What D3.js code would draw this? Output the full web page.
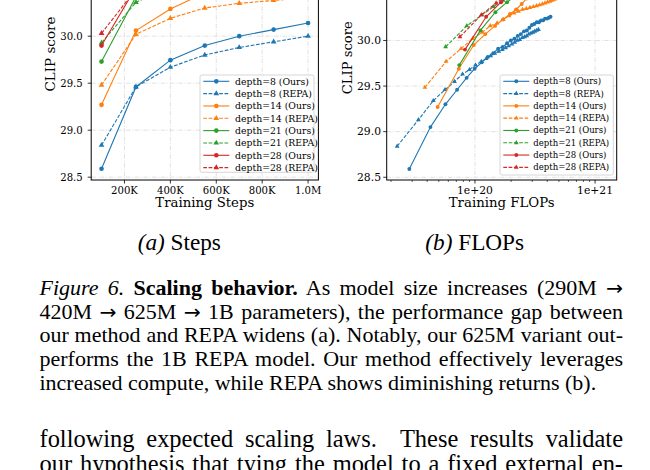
<!DOCTYPE html>
<html>
<head>
<meta charset="utf-8">
<script src="https://cdn.jsdelivr.net/npm/d3@7/dist/d3.min.js"></script>
<style>
  body { margin: 0; background: #fff; }
  svg { display: block; }
</style>
</head>
<body>
<svg id="figure" width="650" height="470"></svg>
<script>
// ---- data ----

// (a) CLIP score vs training steps
const trainSteps = [100000, 250000, 400000, 550000, 700000, 850000, 1000000];
const stepD8Ours  = [28.59, 29.46, 29.745, 29.90, 30.00, 30.07, 30.14];
const stepD8Repa  = [28.84, 29.46, 29.67, 29.80, 29.88, 29.94, 30.00];
const stepD14Ours = [29.27, 30.06, 30.29, 30.46, 30.55, 30.60, 30.64];
const stepD14Repa = [29.48, 30.02, 30.19, 30.30, 30.35, 30.38, 30.41];
const stepD21Ours = [29.73, 30.42, 30.62, 30.73, 30.80, 30.85, 30.89];
const stepD21Repa = [29.93, 30.36, 30.53, 30.61, 30.65, 30.68, 30.70];
const stepD28Ours = [29.90, 30.52, 30.70, 30.81, 30.88, 30.93, 30.97];
const stepD28Repa = [30.03, 30.50, 30.63, 30.70, 30.74, 30.77, 30.79];

// (b) CLIP score vs training FLOPs (FLOPs in units of 1e19)
const flopD8Ours = [2.84, 4.26, 5.68, 7.10, 8.52, 9.94, 11.4, 12.8, 14.2, 15.6, 17.0, 18.5, 19.9, 21.3, 22.7,
  24.1, 25.6, 27.0, 28.4, 29.8, 31.2, 32.7, 34.1, 35.5, 36.9, 38.3, 39.8, 41.2, 42.6];
const clipD8Ours = [28.59, 29.05, 29.30, 29.46, 29.59, 29.69, 29.76, 29.82, 29.86, 29.91, 29.93, 29.97, 30.00, 30.02, 30.05,
  30.07, 30.10, 30.11, 30.14, 30.17, 30.18, 30.20, 30.20, 30.22, 30.22, 30.24, 30.24, 30.25, 30.26];
const flopD8Repa = [2.25, 3.38, 4.50, 5.63, 6.75, 7.88, 9.00, 10.1, 11.3, 12.4, 13.5, 14.6, 15.8, 16.9, 18.0,
  19.1, 20.3, 21.4, 22.5, 23.6, 24.8, 25.9, 27.0, 28.1, 29.3, 30.4, 31.5, 32.6, 33.8];
const clipD8Repa = [28.84, 29.13, 29.34, 29.46, 29.55, 29.63, 29.68, 29.73, 29.77, 29.80, 29.83, 29.86, 29.88, 29.90, 29.92,
  29.94, 29.96, 29.98, 30.00, 30.01, 30.03, 30.04, 30.05, 30.07, 30.08, 30.09, 30.10, 30.11, 30.12];
const flopD14Ours = [4.89, 7.34, 9.78, 12.2, 14.7, 17.1, 19.6, 22.0, 24.5, 26.9, 29.3, 31.8, 34.2, 36.7, 39.1,
  41.6, 44.0, 46.5, 48.9, 51.3, 53.8, 56.2, 58.7, 61.1, 63.6, 66.0, 68.5, 70.9, 73.4];
const clipD14Ours = [29.27, 29.69, 29.95, 30.07, 30.16, 30.23, 30.29, 30.34, 30.40, 30.46, 30.50, 30.53, 30.55, 30.57, 30.59,
  30.60, 30.62, 30.63, 30.64, 30.65, 30.66, 30.67, 30.68, 30.69, 30.70, 30.70, 30.71, 30.72, 30.72];
const flopD14Repa = [3.83, 5.75, 7.66, 9.58, 11.5, 13.4, 15.3, 17.2, 19.2, 21.1, 23.0, 24.9, 26.8, 28.7, 30.6,
  32.6, 34.5, 36.4, 38.3, 40.2, 42.1, 44.0, 46.0, 47.9, 49.8, 51.7, 53.6, 55.5, 57.5];
const clipD14Repa = [29.485, 29.77, 29.91, 30.02, 30.09, 30.16, 30.19, 30.23, 30.27, 30.30, 30.32, 30.34, 30.35, 30.36, 30.37,
  30.38, 30.39, 30.40, 30.41, 30.42, 30.43, 30.44, 30.45, 30.46, 30.46, 30.47, 30.48, 30.48, 30.49];
const flopD21Ours = [7.40, 11.1, 14.8, 18.5, 22.2, 25.9, 29.6, 33.3, 37.0, 40.7, 44.4, 48.1, 51.8, 55.5, 59.2,
  62.9, 66.6, 70.3, 74.0, 77.7, 81.4, 85.1, 88.8, 92.5, 96.2, 99.9, 103.6, 107.3, 111.0];
const clipD21Ours = [29.73, 30.11, 30.31, 30.42, 30.50, 30.56, 30.62, 30.66, 30.70, 30.73, 30.76, 30.78, 30.80, 30.82, 30.84,
  30.85, 30.86, 30.88, 30.89, 30.90, 30.91, 30.92, 30.92, 30.93, 30.94, 30.94, 30.95, 30.95, 30.96];
const flopD21Repa = [5.70, 8.55, 11.4, 14.3, 17.1, 20.0, 22.8, 25.7, 28.5, 31.4, 34.2, 37.1, 39.9, 42.8, 45.6,
  48.5, 51.3, 54.2, 57.0, 59.9, 62.7, 65.6, 68.4, 71.3, 74.1, 77.0, 79.8, 82.7, 85.5];
const clipD21Repa = [29.93, 30.16, 30.28, 30.37, 30.44, 30.49, 30.53, 30.56, 30.59, 30.61, 30.63, 30.64, 30.65, 30.66, 30.67,
  30.68, 30.69, 30.70, 30.70, 30.71, 30.71, 30.72, 30.72, 30.73, 30.73, 30.74, 30.74, 30.74, 30.75];
const flopD28Ours = [8.26, 12.4, 16.5, 20.7, 24.8, 28.9, 33.0, 37.2, 41.3, 45.4, 49.6, 53.7, 57.8, 62.0, 66.1,
  70.2, 74.3, 78.5, 82.6, 86.7, 90.9, 95.0, 99.1, 103.2, 107.4, 111.5, 115.6, 119.8, 123.9];
const clipD28Ours = [29.90, 30.26, 30.42, 30.52, 30.59, 30.65, 30.70, 30.74, 30.78, 30.81, 30.84, 30.86, 30.88, 30.90, 30.92,
  30.93, 30.95, 30.96, 30.97, 30.98, 30.99, 31.00, 31.00, 31.01, 31.01, 31.02, 31.02, 31.03, 31.03];
const flopD28Repa = [7.50, 11.3, 15.0, 18.8, 22.5, 26.3, 30.0, 33.8, 37.5, 41.3, 45.0, 48.8, 52.5, 56.3, 60.0,
  63.8, 67.5, 71.3, 75.0, 78.8, 82.5, 86.3, 90.0, 93.8, 97.5, 101.3, 105.0, 108.8, 112.5];
const clipD28Repa = [30.04, 30.28, 30.41, 30.50, 30.55, 30.60, 30.63, 30.66, 30.68, 30.70, 30.72, 30.73, 30.74, 30.75, 30.76,
  30.77, 30.78, 30.78, 30.79, 30.79, 30.80, 30.80, 30.80, 30.81, 30.81, 30.81, 30.82, 30.82, 30.82];

const seriesLabels = ["depth=8 (Ours)", "depth=8 (REPA)", "depth=14 (Ours)", "depth=14 (REPA)",
                      "depth=21 (Ours)", "depth=21 (REPA)", "depth=28 (Ours)", "depth=28 (REPA)"];
const seriesColors = ["#1f77b4", "#1f77b4", "#ff7f0e", "#ff7f0e", "#2ca02c", "#2ca02c", "#d62728", "#d62728"];

const clipTicks = [28.5, 29.0, 29.5, 30.0, 30.5, 31.0];
const clipLimits = [28.47, 31.15];
const stepTicks = [200000, 400000, 600000, 800000, 1000000];
const stepTickLabels = ["200K", "400K", "600K", "800K", "1.0M"];
const flopTicks = [1e20, 1e21];
const flopTickLabels = ["1e+20", "1e+21"];

const subCaptions = [["(a)", " Steps"], ["(b)", " FLOPs"]];
const captionLines = [
  [["Figure 6.", "italic"], [" ", ""], ["Scaling behavior.", "bold"], [" As model size increases (290M \u2192", ""]],
  [["420M \u2192 625M \u2192 1B parameters), the performance gap between", ""]],
  [["our method and REPA widens (a). Notably, our 625M variant out-", ""]],
  [["performs the 1B REPA model. Our method effectively leverages", ""]],
  [["increased compute, while REPA shows diminishing returns (b).", ""]]
];
const bodyLines = [
  "following expected scaling laws.  These results validate",
  "our hypothesis that tying the model to a fixed external en-"
];

// ---- build series ----
const stepSeries = [stepD8Ours, stepD8Repa, stepD14Ours, stepD14Repa, stepD21Ours, stepD21Repa, stepD28Ours, stepD28Repa]
  .map((vals, i) => ({
    label: seriesLabels[i], color: seriesColors[i], repa: i % 2 === 1,
    points: vals.map((v, j) => ({ x: trainSteps[j], y: v }))
  }));

const flopPairs = [[flopD8Ours, clipD8Ours], [flopD8Repa, clipD8Repa], [flopD14Ours, clipD14Ours], [flopD14Repa, clipD14Repa],
                   [flopD21Ours, clipD21Ours], [flopD21Repa, clipD21Repa], [flopD28Ours, clipD28Ours], [flopD28Repa, clipD28Repa]];
const flopSeries = flopPairs.map(([xs, ys], i) => ({
  label: seriesLabels[i], color: seriesColors[i], repa: i % 2 === 1,
  points: xs.map((f, j) => ({ x: f * 1e19, y: ys[j] }))
}));

const svg = d3.select("#figure");
const chartFont = "DejaVu Serif";
const paperFont = "Liberation Serif, Times New Roman, serif";

// scale font so that a sample string gets a target width
function fitSize(text, family, weight, target) {
  const t = svg.append("text").attr("font-family", family).attr("font-size", 20)
    .attr("font-weight", weight || "normal").text(text);
  const w = t.node().getComputedTextLength();
  t.remove();
  return 20 * target / w;
}

function drawPanel(cfg) {
  const { box, x, y, series, id } = cfg;
  const g = svg.append("g");

  g.append("clipPath").attr("id", id).append("rect")
    .attr("x", box.left).attr("y", box.top)
    .attr("width", box.right - box.left).attr("height", box.bottom - box.top);

  // grid
  const grid = g.append("g").attr("stroke", "#d9d9d9").attr("stroke-width", 0.8)
    .attr("stroke-dasharray", "4.5,1.6,1,1.6");
  cfg.xTicks.forEach(t => grid.append("line")
    .attr("x1", x(t)).attr("x2", x(t)).attr("y1", box.top).attr("y2", box.bottom));
  clipTicks.forEach(t => grid.append("line")
    .attr("x1", box.left).attr("x2", box.right).attr("y1", y(t)).attr("y2", y(t)));

  // series
  const line = d3.line().x(d => x(d.x)).y(d => y(d.y));
  const plot = g.append("g").attr("clip-path", `url(#${id})`);
  series.forEach(s => {
    plot.append("path").datum(s.points)
      .attr("fill", "none").attr("stroke", s.color).attr("stroke-width", 1.1)
      .attr("stroke-dasharray", s.repa ? "3.7,1.6" : null)
      .attr("d", line);
    const sym = d3.symbol()
      .type(s.repa ? d3.symbolTriangle : d3.symbolCircle)
      .size(s.repa ? cfg.triSize : cfg.dotSize);
    plot.selectAll(null).data(s.points).join("path")
      .attr("transform", d => `translate(${x(d.x)},${y(d.y)})`)
      .attr("d", sym).attr("fill", s.color);
  });

  // spines
  g.append("rect").attr("x", box.left).attr("y", box.top)
    .attr("width", box.right - box.left).attr("height", box.bottom - box.top)
    .attr("fill", "none").attr("stroke", "#000").attr("stroke-width", 1);

  // tick labels share one size per panel
  const tickFs = fitSize("30.0", chartFont, null, cfg.yTickWidth);

  clipTicks.forEach(t => {
    g.append("line").attr("x1", box.left - 3.5).attr("x2", box.left)
      .attr("y1", y(t)).attr("y2", y(t)).attr("stroke", "#000").attr("stroke-width", 0.8);
    g.append("text").attr("x", cfg.yLabelRight).attr("y", y(t)).attr("dy", "0.35em")
      .attr("text-anchor", "end").attr("font-family", chartFont).attr("font-size", tickFs)
      .text(t.toFixed(1));
  });

  // minor x ticks (log axis only)
  (cfg.xMinor || []).forEach(t => {
    g.append("line").attr("x1", x(t)).attr("x2", x(t))
      .attr("y1", box.bottom).attr("y2", box.bottom + 2)
      .attr("stroke", "#000").attr("stroke-width", 0.6);
  });

  cfg.xTicks.forEach((t, i) => {
    g.append("line").attr("x1", x(t)).attr("x2", x(t))
      .attr("y1", box.bottom).attr("y2", box.bottom + 3.5).attr("stroke", "#000").attr("stroke-width", 0.8);
    g.append("text").attr("x", x(t)).attr("y", cfg.xLabelY).attr("dy", "0.35em")
      .attr("text-anchor", "middle").attr("font-family", chartFont).attr("font-size", tickFs)
      .text(cfg.xTickLabels[i]);
  });

  // axis titles
  g.append("text").attr("x", (box.left + box.right) / 2).attr("y", cfg.xTitleY)
    .attr("text-anchor", "middle").attr("font-family", chartFont)
    .attr("font-size", fitSize(cfg.xTitle, chartFont, null, cfg.xTitleWidth))
    .text(cfg.xTitle);
  g.append("text")
    .attr("transform", `translate(${cfg.yTitleX},${(box.top + box.bottom) / 2}) rotate(-90)`)
    .attr("text-anchor", "middle").attr("font-family", chartFont)
    .attr("font-size", fitSize("CLIP score", chartFont, null, cfg.yTitleWidth))
    .text("CLIP score");

  // legend
  const lg = cfg.legend;
  const leg = g.append("g");
  leg.append("rect").attr("x", lg.left).attr("y", lg.top)
    .attr("width", lg.right - lg.left).attr("height", lg.bottom - lg.top)
    .attr("rx", 2).attr("fill", "#fff").attr("fill-opacity", 0.8)
    .attr("stroke", "#cccccc").attr("stroke-width", 0.8);
  const lfs = fitSize(seriesLabels[0], chartFont, null, lg.textWidth);
  series.forEach((s, i) => {
    const ry = lg.firstRow + i * lg.rowGap;
    leg.append("line").attr("x1", lg.handleX0).attr("x2", lg.handleX1)
      .attr("y1", ry).attr("y2", ry)
      .attr("stroke", s.color).attr("stroke-width", 1.1)
      .attr("stroke-dasharray", s.repa ? "3.7,1.6" : null);
    leg.append("path")
      .attr("transform", `translate(${(lg.handleX0 + lg.handleX1) / 2},${ry})`)
      .attr("d", d3.symbol().type(s.repa ? d3.symbolTriangle : d3.symbolCircle)
        .size(s.repa ? cfg.triSize : cfg.dotSize))
      .attr("fill", s.color);
    leg.append("text").attr("x", lg.textX).attr("y", ry).attr("dy", "0.35em")
      .attr("font-family", chartFont).attr("font-size", lfs).text(s.label);
  });
}

// ---- panel (a): steps ----
const boxA = { left: 91.2, right: 318.4, top: -71.9, bottom: 180 };
const [s0, s1] = d3.extent(trainSteps);
const xA = d3.scaleLinear()
  .domain([s0 - 0.05 * (s1 - s0), s1 + 0.05 * (s1 - s0)])
  .range([boxA.left, boxA.right]);
const yA = d3.scaleLinear().domain(clipLimits).range([boxA.bottom, boxA.top]);

drawPanel({
  id: "clipA", box: boxA, x: xA, y: yA, series: stepSeries,
  xTicks: stepTicks, xTickLabels: stepTickLabels,
  dotSize: 17, triSize: 14,
  yTickWidth: 22.5, yLabelRight: 82.7, xLabelY: 190.5,
  xTitle: "Training Steps", xTitleWidth: 99, xTitleY: 207,
  yTitleX: 55, yTitleWidth: 75,
  legend: { left: 200, right: 314, top: 75, bottom: 172.3, firstRow: 81.3, rowGap: 12.33,
            handleX0: 203.3, handleX1: 229.3, textX: 235, textWidth: 74 }
});

// ---- panel (b): FLOPs ----
const boxB = { left: 386.7, right: 616.7, top: -64.4, bottom: 180 };
const allFlops = flopSeries.flatMap(s => s.points.map(p => Math.log10(p.x)));
const [f0, f1] = d3.extent(allFlops);
const xB = d3.scaleLog()
  .domain([10 ** (f0 - 0.05 * (f1 - f0)), 10 ** (f1 + 0.05 * (f1 - f0))])
  .range([boxB.left, boxB.right]);
const yB = d3.scaleLinear().domain(clipLimits).range([boxB.bottom, boxB.top]);
const flopMinor = xB.ticks().filter(t => !flopTicks.includes(t));

drawPanel({
  id: "clipB", box: boxB, x: xB, y: yB, series: flopSeries,
  xTicks: flopTicks, xTickLabels: flopTickLabels, xMinor: flopMinor,
  dotSize: 12, triSize: 10,
  yTickWidth: 24, yLabelRight: 381, xLabelY: 190,
  xTitle: "Training FLOPs", xTitleWidth: 106, xTitleY: 207,
  yTitleX: 352, yTitleWidth: 73,
  legend: { left: 500, right: 613.3, top: 75, bottom: 175, firstRow: 81.3, rowGap: 12.29,
            handleX0: 503.3, handleX1: 529.3, textX: 533.3, textWidth: 67.7 }
});

// ---- sub-captions ----
const subCenters = [179.3, 474.7];
const subFs = fitSize("(a) Steps", paperFont, null, 82);
subCaptions.forEach(([tag, word], i) => {
  const t = svg.append("text").attr("x", subCenters[i]).attr("y", 250)
    .attr("text-anchor", "middle").attr("font-family", paperFont).attr("font-size", subFs);
  t.append("tspan").attr("font-style", "italic").text(tag);
  t.append("tspan").text(word);
});

// ---- figure caption and body text (justified) ----
const textLeft = 39.5, textRight = 623;
const capFs = fitSize(captionLines[4][0][0], paperFont, null, 557);
const bodyFs = capFs * 10 / 9;

function justifiedLine(parts, y, fs, justify) {
  const t = svg.append("text").attr("x", textLeft).attr("y", y)
    .attr("font-family", paperFont).attr("font-size", fs)
    .style("white-space", "pre");
  parts.forEach(([str, style]) => {
    // arrows come from a math font in the paper; DejaVu gives a wider glyph
    str.split(/(\u2192)/).filter(s => s.length).forEach(piece => {
      const sp = t.append("tspan").text(piece);
      if (piece === "\u2192") sp.attr("font-family", "DejaVu Sans").attr("font-size", fs * 0.92);
      if (style === "italic") sp.attr("font-style", "italic");
      if (style === "bold") sp.attr("font-weight", "bold");
    });
  });
  if (justify) {
    const w = t.node().getComputedTextLength();
    const spaces = parts.map(p => p[0]).join("").split(" ").length - 1;
    t.style("word-spacing", `${(textRight - textLeft - w) / spaces}px`);
  }
}

captionLines.forEach((parts, i) =>
  justifiedLine(parts, 295 + i * 23.7, capFs, i < captionLines.length - 1));
bodyLines.forEach((str, i) => justifiedLine([[str, ""]], 447 + i * 25, bodyFs, true));
</script>
</body>
</html>
